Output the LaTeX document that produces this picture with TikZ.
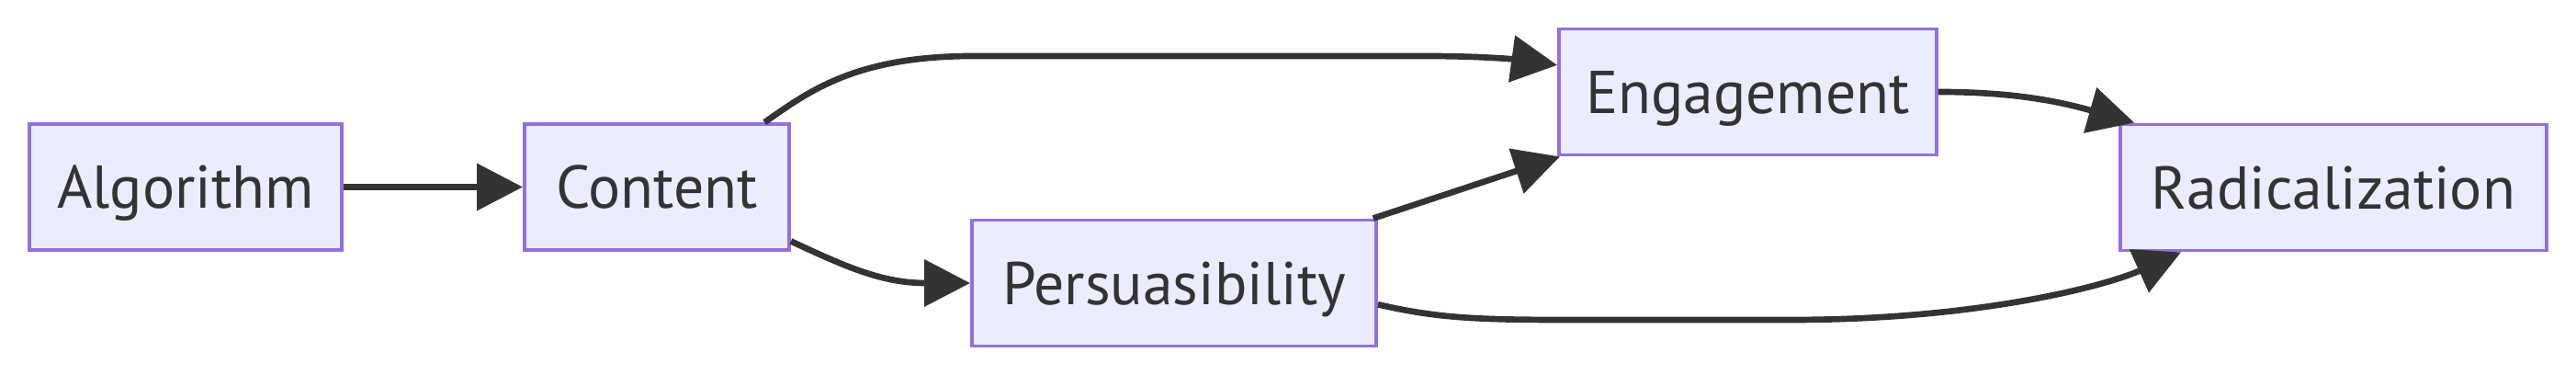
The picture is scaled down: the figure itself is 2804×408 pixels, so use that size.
\documentclass[tikz,border=0pt]{standalone}
\usepackage{fontspec}
\setmainfont{PT Sans}
\usepackage{xcolor}
\usetikzlibrary{arrows.meta}

\definecolor{boxfill}{HTML}{ECECFF}
\definecolor{boxline}{HTML}{9370DB}
\definecolor{ink}{HTML}{333333}

\tikzset{
    stage/.style={draw=boxline, fill=boxfill, line width=1.1pt, text=ink,
        minimum height=1.37cm, inner sep=0pt, text height=13.1pt, text depth=0pt,
        font=\fontsize{18.7}{20}\selectfont},
    link/.style={draw=ink, line width=1.9pt,
        -{Triangle[length=5mm, width=5mm]}}
}

\begin{document}
\begin{tikzpicture}[x=0.1mm, y=-0.1mm]
            \useasboundingbox (0,0) rectangle (2804,408);
            \node[stage, minimum width=3.40cm] (alg) at (202,203.5) {Algorithm};
            \node[stage, minimum width=2.88cm] (content) at (715,203.5) {Content};
            \node[stage, minimum width=4.40cm] (pers) at (1278,308) {Persuasibility};
            \node[stage, minimum width=4.11cm] (eng) at (1902.5,100) {Engagement};
            \node[stage, minimum width=4.64cm] (rad) at (2540,204) {Radicalization};
            \draw[link] (alg.east) -- (content.west);
            \draw[link] (content.31) .. controls (880,100) and (930,61) .. (1060,61) -- (1550,61) .. controls (1625,61) and (1660,66) .. (eng.172);
            \draw[link] (content.-22.5) .. controls (920,290) and (960,308) .. (pers.west);
            \draw[link] (pers.18) -- (eng.199);
            \draw[link] (eng.east) .. controls (2190,100) and (2240,110) .. (rad.162.7);
            \draw[link] (pers.-6.5) .. controls (1560,345) and (1600,348) .. (1700,348) -- (1950,348) .. controls (2150,348) and (2290,312) .. (rad.203.4);
        \end{tikzpicture}
\end{document}
